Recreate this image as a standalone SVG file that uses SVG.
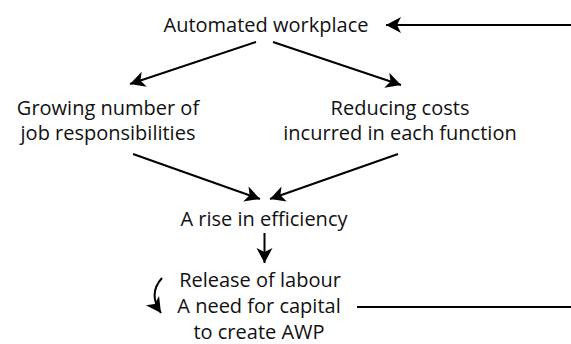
<svg xmlns="http://www.w3.org/2000/svg" width="571" height="344" viewBox="0 0 571 344">
  <style>
    .label { font-family: "Open Sans", "Noto Sans", "Liberation Sans", sans-serif; font-size: 20px; fill: #111; text-anchor: middle; }
    .link { fill: none; stroke: #000; stroke-width: 2; }
  </style>
  <defs>
    <marker id="head" markerUnits="userSpaceOnUse" markerWidth="18" markerHeight="18" viewBox="-16 -9 18 18" refX="0" refY="0" orient="auto">
      <path d="M0,0 L-15,-8 L-11,0 L-15,8 Z" fill="#000"/>
    </marker>
  </defs>

  <rect width="571" height="344" fill="#fff"/>

  <g id="connectors">
    <!-- feedback into the automated workplace -->
    <line class="link" x1="571" y1="25" x2="386" y2="25" marker-end="url(#head)"/>
    <!-- fan-out from the workplace -->
    <line class="link" x1="256" y1="42" x2="130" y2="84" marker-end="url(#head)"/>
    <line class="link" x1="273" y1="42" x2="401" y2="85" marker-end="url(#head)"/>
    <!-- converge on efficiency -->
    <line class="link" x1="133" y1="154" x2="260" y2="199" marker-end="url(#head)"/>
    <line class="link" x1="398" y1="154" x2="270" y2="199" marker-end="url(#head)"/>
    <!-- efficiency to release of labour -->
    <line class="link" x1="264.5" y1="233" x2="264.5" y2="263" marker-end="url(#head)"/>
    <!-- curved pointer beside the last node -->
    <path class="link" d="M162,278 C153,288 152,300 161,313" marker-end="url(#head)"/>
    <!-- return line toward the top -->
    <line class="link" x1="357" y1="307" x2="571" y2="307"/>
  </g>

  <g id="automated-workplace">
    <text class="label" x="266" y="32">Automated workplace</text>
  </g>
  <g id="job-responsibilities">
    <text class="label" x="108" y="115">Growing number of</text>
    <text class="label" x="108" y="140">job responsibilities</text>
  </g>
  <g id="reducing-costs">
    <text class="label" x="400" y="115">Reducing costs</text>
    <text class="label" x="400" y="140">incurred in each function</text>
  </g>
  <g id="efficiency">
    <text class="label" x="264" y="226">A rise in efficiency</text>
  </g>
  <g id="release-of-labour">
    <text class="label" x="260" y="287">Release of labour</text>
    <text class="label" x="259" y="313">A need for capital</text>
    <text class="label" x="259" y="339">to create AWP</text>
  </g>
</svg>
